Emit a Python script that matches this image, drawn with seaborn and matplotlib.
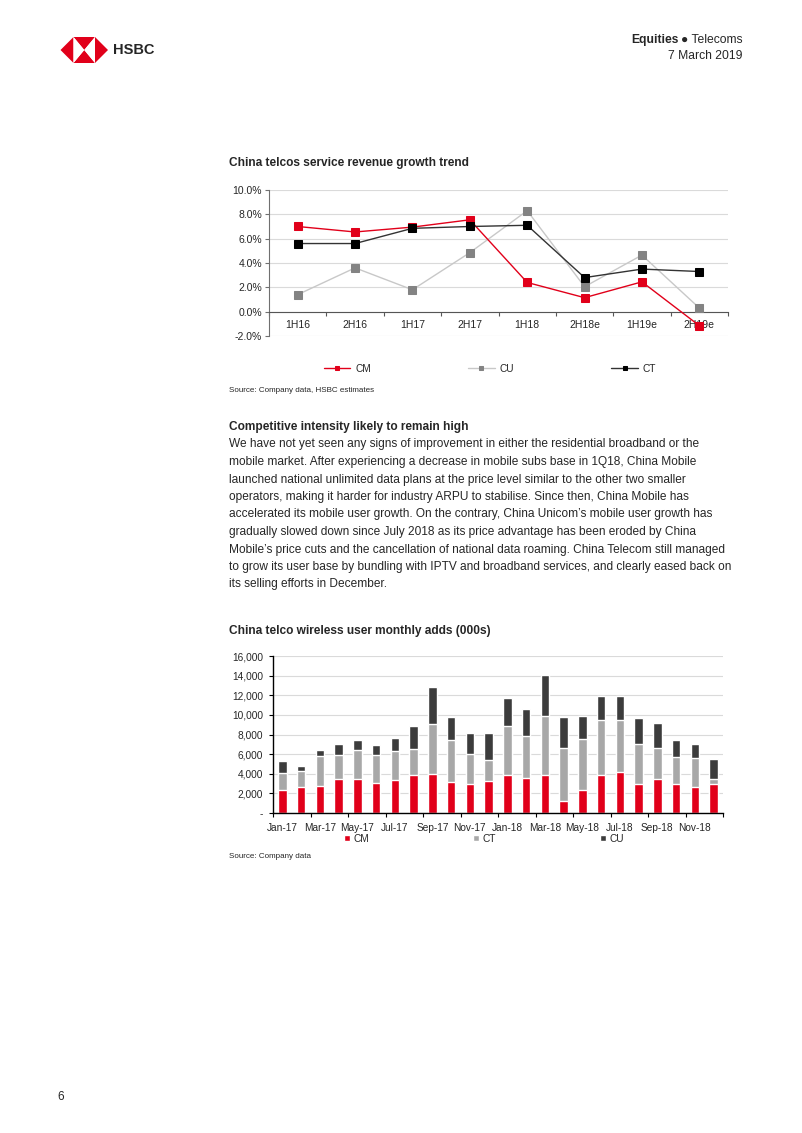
import numpy as np
import pandas as pd
import matplotlib.pyplot as plt
from matplotlib.patches import Polygon
from matplotlib.ticker import FuncFormatter
import seaborn as sns

# service revenue growth (%)
periods = ['1H16', '2H16', '1H17', '2H17', '1H18', '2H18e', '1H19e', '2H19e']
cm_growth = [7.0, 6.55, 6.95, 7.55, 2.4, 1.15, 2.45, -1.15]
cu_growth = [1.4, 3.6, 1.8, 4.85, 8.3, 2.05, 4.65, 0.3]
ct_growth = [5.6, 5.6, 6.85, 7.0, 7.1, 2.8, 3.5, 3.3]

# wireless monthly adds (000s)
months = ['Jan-17', 'Feb-17', 'Mar-17', 'Apr-17', 'May-17', 'Jun-17', 'Jul-17', 'Aug-17',
          'Sep-17', 'Oct-17', 'Nov-17', 'Dec-17', 'Jan-18', 'Feb-18', 'Mar-18', 'Apr-18',
          'May-18', 'Jun-18', 'Jul-18', 'Aug-18', 'Sep-18', 'Oct-18', 'Nov-18', 'Dec-18']
cm_adds = [2300, 2600, 2800, 3500, 3500, 3100, 3400, 3900, 4000, 3200, 3000, 3300,
           3900, 3600, 3900, 1200, 2300, 3900, 4200, 3000, 3500, 3000, 2700, 3000]
ct_adds = [1800, 1700, 3050, 2450, 2950, 2850, 2950, 2650, 5100, 4250, 3000, 2150,
           5000, 4250, 5950, 5450, 5250, 5550, 5250, 4050, 3150, 2750, 2950, 500]
cu_adds = [1200, 500, 600, 1100, 1000, 1000, 1250, 2300, 3750, 2350, 2150, 2700,
           2800, 2750, 4200, 3150, 2350, 2450, 2450, 2650, 2500, 1700, 1400, 2000]

body_lines = [
    "We have not yet seen any signs of improvement in either the residential broadband or the",
    "mobile market. After experiencing a decrease in mobile subs base in 1Q18, China Mobile",
    "launched national unlimited data plans at the price level similar to the other two smaller",
    "operators, making it harder for industry ARPU to stabilise. Since then, China Mobile has",
    "accelerated its mobile user growth. On the contrary, China Unicom\u2019s mobile user growth has",
    "gradually slowed down since July 2018 as its price advantage has been eroded by China",
    "Mobile\u2019s price cuts and the cancellation of national data roaming. China Telecom still managed",
    "to grow its user base by bundling with IPTV and broadband services, and clearly eased back on",
    "its selling efforts in December.",
]

W, H = 802, 1133
sns.set_style('white')
plt.rcParams['font.family'] = ['Liberation Sans', 'DejaVu Sans']

RED = '#e1001a'
LIGHT = '#a8a8a8'
DARK = '#3c3c3c'
GRID = '#dadada'

fig = plt.figure(figsize=(W / 100, H / 100), dpi=100)


def fx(x):
    return x / W


def fy(y):
    return 1 - y / H


def box(l, t, r, b):
    return [fx(l), fy(b), (r - l) / W, (b - t) / H]


# ---- header ----
hexpts = {'L': (60.5, 50), 'TL': (73.5, 37), 'TR': (95, 37), 'R': (108, 50),
          'BR': (95, 63), 'BL': (73.5, 63), 'C': (84.25, 50)}
def poly(keys, color):
    pts = [(fx(hexpts[k][0]), fy(hexpts[k][1])) for k in keys]
    fig.add_artist(Polygon(pts, closed=True, facecolor=color, edgecolor='none',
                           transform=fig.transFigure))
poly(['L', 'TL', 'BL'], RED)
poly(['R', 'TR', 'BR'], RED)
poly(['TL', 'TR', 'C'], RED)
poly(['BL', 'BR', 'C'], RED)
poly(['TL', 'C', 'BL'], 'white')
poly(['TR', 'C', 'BR'], 'white')
fig.text(fx(113), fy(50.5), 'HSBC', fontsize=10.5, fontweight='bold', va='center', ha='left')

t1 = fig.text(fx(743), fy(40), '\u25cf Telecoms', fontsize=8.7, ha='right', va='center')
fig.canvas.draw()
r = fig.canvas.get_renderer()
bb = t1.get_window_extent(r)
fig.text(bb.x0 / W - 3 / W, fy(40), 'Equities', fontsize=8.7, fontweight='bold', ha='right', va='center')
fig.text(fx(743), fy(56), '7 March 2019', fontsize=8.7, ha='right', va='center')

# ---- chart 1: service revenue growth ----
fig.text(fx(229), fy(163), 'China telcos service revenue growth trend', fontsize=8.6,
         fontweight='bold', va='center')
ax1 = fig.add_axes(box(269, 190, 728, 336))
sns.lineplot(x=periods, y=cu_growth, sort=False, color='#c8c8c8', lw=1, marker='s', ms=5.3,
             markerfacecolor='#838383', markeredgecolor='#838383', label='CU', ax=ax1, zorder=3)
sns.lineplot(x=periods, y=cm_growth, sort=False, color=RED, lw=1, marker='s', ms=5.3,
             markerfacecolor=RED, markeredgecolor=RED, label='CM', ax=ax1, zorder=3, clip_on=False)
sns.lineplot(x=periods, y=ct_growth, sort=False, color='#333333', lw=1, marker='s', ms=5.3,
             markerfacecolor='black', markeredgecolor='black', label='CT', ax=ax1, zorder=3)
ax1.set_ylim(-2, 10)
ax1.set_xlim(-0.5, 7.5)
ax1.set_yticks(np.arange(-2, 10.1, 2))
ax1.yaxis.set_major_formatter(FuncFormatter(lambda v, p: f'{v:.1f}%'))
ax1.yaxis.grid(True, color=GRID, lw=0.8)
ax1.set_xticks(np.arange(-0.5, 8, 1))
ax1.set_xticklabels([])
ax1.set_xticks(np.arange(8), minor=True)
ax1.set_xticklabels(periods, minor=True)
ax1.spines['bottom'].set_position(('data', 0))
for s in ['top', 'right']:
    ax1.spines[s].set_visible(False)
ax1.spines['bottom'].set_color('#555555')
ax1.spines['left'].set_color('#707070')
ax1.tick_params(axis='x', which='major', bottom=True, length=3, direction='out', color='#555555')
ax1.tick_params(axis='x', which='minor', bottom=True, length=0, pad=6, labelsize=7.5)
ax1.tick_params(axis='y', left=True, length=3, direction='out', color='#707070', pad=2, labelsize=7.5)
ax1.set_xlabel('')
ax1.set_ylabel('')
h, l = ax1.get_legend_handles_labels()
order = [l.index(k) for k in ['CM', 'CU', 'CT']]
ax1.legend([h[i] for i in order], [l[i] for i in order], ncol=3, loc='center',
           bbox_to_anchor=(fx(490), fy(369)), bbox_transform=fig.transFigure, frameon=False,
           fontsize=7.3, handlelength=2.6, handletextpad=0.5, columnspacing=9.6, markerscale=0.65)
fig.text(fx(229), fy(391), 'Source: Company data, HSBC estimates', fontsize=5.8, va='center')

# ---- text body ----
fig.text(fx(229), fy(427), 'Competitive intensity likely to remain high', fontsize=8.6,
         fontweight='bold', va='center')
for i, line in enumerate(body_lines):
    fig.text(fx(229), fy(444.5 + 17.5 * i), line, fontsize=8.6, va='center')

# ---- chart 2: wireless adds ----
fig.text(fx(229), fy(631), 'China telco wireless user monthly adds (000s)', fontsize=8.6,
         fontweight='bold', va='center')
adds = pd.DataFrame({'month': months, 'CM': cm_adds, 'CT': ct_adds, 'CU': cu_adds})
adds['CM+CT'] = adds['CM'] + adds['CT']
adds['total'] = adds['CM+CT'] + adds['CU']
ax2 = fig.add_axes(box(273, 656, 723, 813))
sns.barplot(data=adds, x='month', y='total', color=DARK, saturation=1, width=0.45, label='CU', ax=ax2)
sns.barplot(data=adds, x='month', y='CM+CT', color=LIGHT, saturation=1, width=0.45, label='CT', ax=ax2)
sns.barplot(data=adds, x='month', y='CM', color=RED, saturation=1, width=0.45, label='CM', ax=ax2)
ax2.set_ylim(0, 16000)
ax2.set_xlim(-0.5, 23.5)
ax2.set_yticks(np.arange(0, 16001, 2000))
ax2.yaxis.set_major_formatter(FuncFormatter(lambda v, p: '-' if v == 0 else f'{v:,.0f}'))
ax2.yaxis.grid(True, color=GRID, lw=0.8)
ax2.set_axisbelow(True)
ax2.set_xticks(np.arange(-0.5, 24, 2))
ax2.set_xticklabels([])
ax2.set_xticks(np.arange(0, 24, 2), minor=True)
ax2.set_xticklabels(months[::2], minor=True)
for s in ['top', 'right']:
    ax2.spines[s].set_visible(False)
for s in ['bottom', 'left']:
    ax2.spines[s].set_color('black')
    ax2.spines[s].set_linewidth(1)
ax2.tick_params(axis='x', which='major', bottom=True, length=3, direction='out', color='black')
ax2.tick_params(axis='x', which='minor', bottom=True, length=0, pad=7, labelsize=7.3)
ax2.tick_params(axis='y', left=True, length=3, direction='out', color='black', pad=4, labelsize=7.3)
ax2.set_xlabel('')
ax2.set_ylabel('')
h, l = ax2.get_legend_handles_labels()
order = [l.index(k) for k in ['CM', 'CT', 'CU']]
ax2.legend([h[i] for i in order], [l[i] for i in order], ncol=3, loc='center',
           bbox_to_anchor=(fx(484), fy(838.5)), bbox_transform=fig.transFigure, frameon=False,
           fontsize=7.3, handlelength=0.6, handleheight=0.6, handletextpad=0.3, columnspacing=10.3)
fig.text(fx(229), fy(857), 'Source: Company data', fontsize=5.8, va='center')

fig.text(fx(57), fy(1097), '6', fontsize=8.5, va='center')

fig.savefig('out.png', dpi=100)
